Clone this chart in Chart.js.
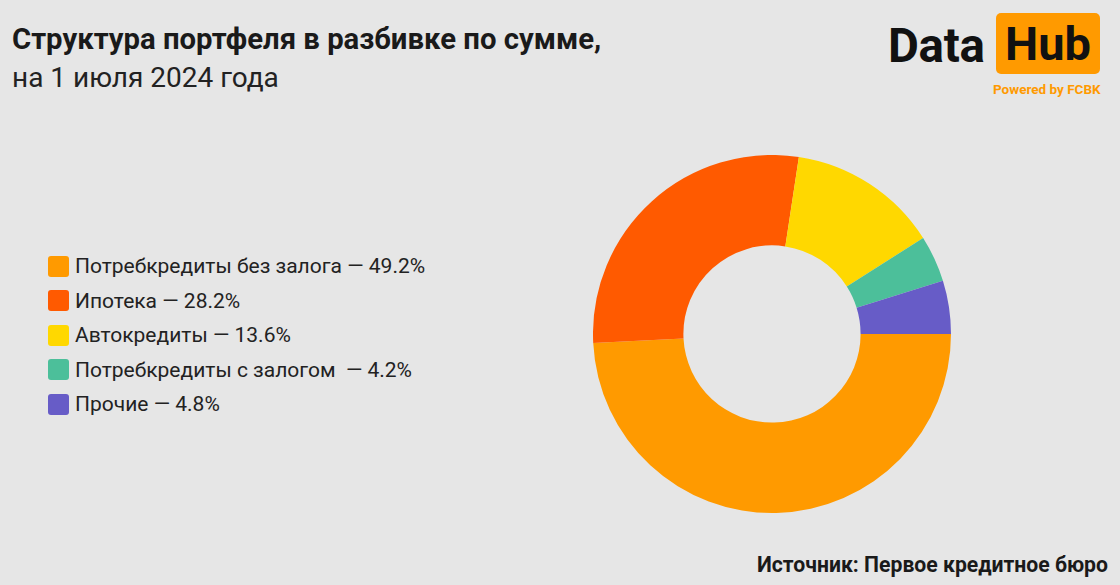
<!DOCTYPE html>
<html lang="ru">
<head>
<meta charset="utf-8">
<script src="https://cdn.jsdelivr.net/npm/chart.js@4"></script>
<style>
  html, body { margin: 0; padding: 0; }
  body {
    width: 1120px; height: 585px; overflow: hidden; position: relative;
    background: #e6e6e6; font-family: Roboto, "Noto Sans", sans-serif; color: #1a1a1a;
  }
  #title { position: absolute; left: 12px; top: 22px; line-height: 34px; white-space: nowrap; }
  #title b { font-weight: 700; font-size: 29.3px; }
  #title span { font-weight: 400; font-size: 28px; color: #222; }
  #logo { position: absolute; left: 888px; top: 12px; }
  #logo .data { position: absolute; left: 0; top: 6px; font-size: 47.5px; font-weight: 700; color: #111; letter-spacing: -0.3px; }
  #logo .hub { position: absolute; left: 108px; top: 1px; width: 104px; height: 61px; background: #ff9a00; border-radius: 5px;
               font-size: 47px; font-weight: 700; color: #111; text-align: center; line-height: 62px; }
  #logo .pw { position: absolute; left: 105px; top: 69px; white-space: nowrap; font-size: 13.5px; font-weight: 700; color: #ff9a00; }
  #legend { position: absolute; left: 48px; top: 249px; }
  .row { height: 34.5px; display: flex; align-items: center; font-size: 21px; color: #222; white-space: pre; }
  .sw { width: 21px; height: 21px; border-radius: 3px; margin-right: 6px; flex: none; }
  #chartBox { position: absolute; left: 593px; top: 155px; width: 358px; height: 358px; }
  #source { position: absolute; right: 12px; top: 552px; font-size: 21.2px; font-weight: 700; color: #1a1a1a; white-space: nowrap; }
</style>
</head>
<body>
<div id="title"><b>Структура портфеля в разбивке по сумме,</b><br><span>на 1 июля 2024 года</span></div>
<div id="logo">
  <div class="data">Data</div>
  <div class="hub">Hub</div>
  <div class="pw">Powered by FCBK</div>
</div>
<div id="legend"></div>
<div id="chartBox"><canvas id="donut"></canvas></div>
<div id="source">Источник: Первое кредитное бюро</div>

<script>
// Chart data
const categories = ['Потребкредиты без залога', 'Ипотека', 'Автокредиты', 'Потребкредиты с залогом ', 'Прочие'];
const shares = [49.2, 28.2, 13.6, 4.2, 4.8];
const colors = ['#ff9a00', '#ff5a00', '#ffd800', '#4cbf9a', '#675cc7'];

// Build legend
const legend = document.getElementById('legend');
categories.forEach((name, i) => {
    const row = document.createElement('div');
    row.className = 'row';
    row.innerHTML = `<div class="sw" style="background:${colors[i]}"></div>${name} — ${shares[i].toFixed(1)}%`;
    legend.appendChild(row);
});

// Donut chart
const ctx = document.getElementById('donut').getContext('2d');
new Chart(ctx, {
    type: 'doughnut',
    data: {
        labels: categories,
        datasets: [{
            data: shares,
            backgroundColor: colors,
            borderWidth: 0
        }]
    },
    options: {
        responsive: true,
        maintainAspectRatio: false,
        animation: false,
        rotation: 90,
        cutout: '49.5%',
        plugins: {
            legend: { display: false },
            tooltip: { enabled: false }
        }
    }
});
</script>
</body>
</html>
